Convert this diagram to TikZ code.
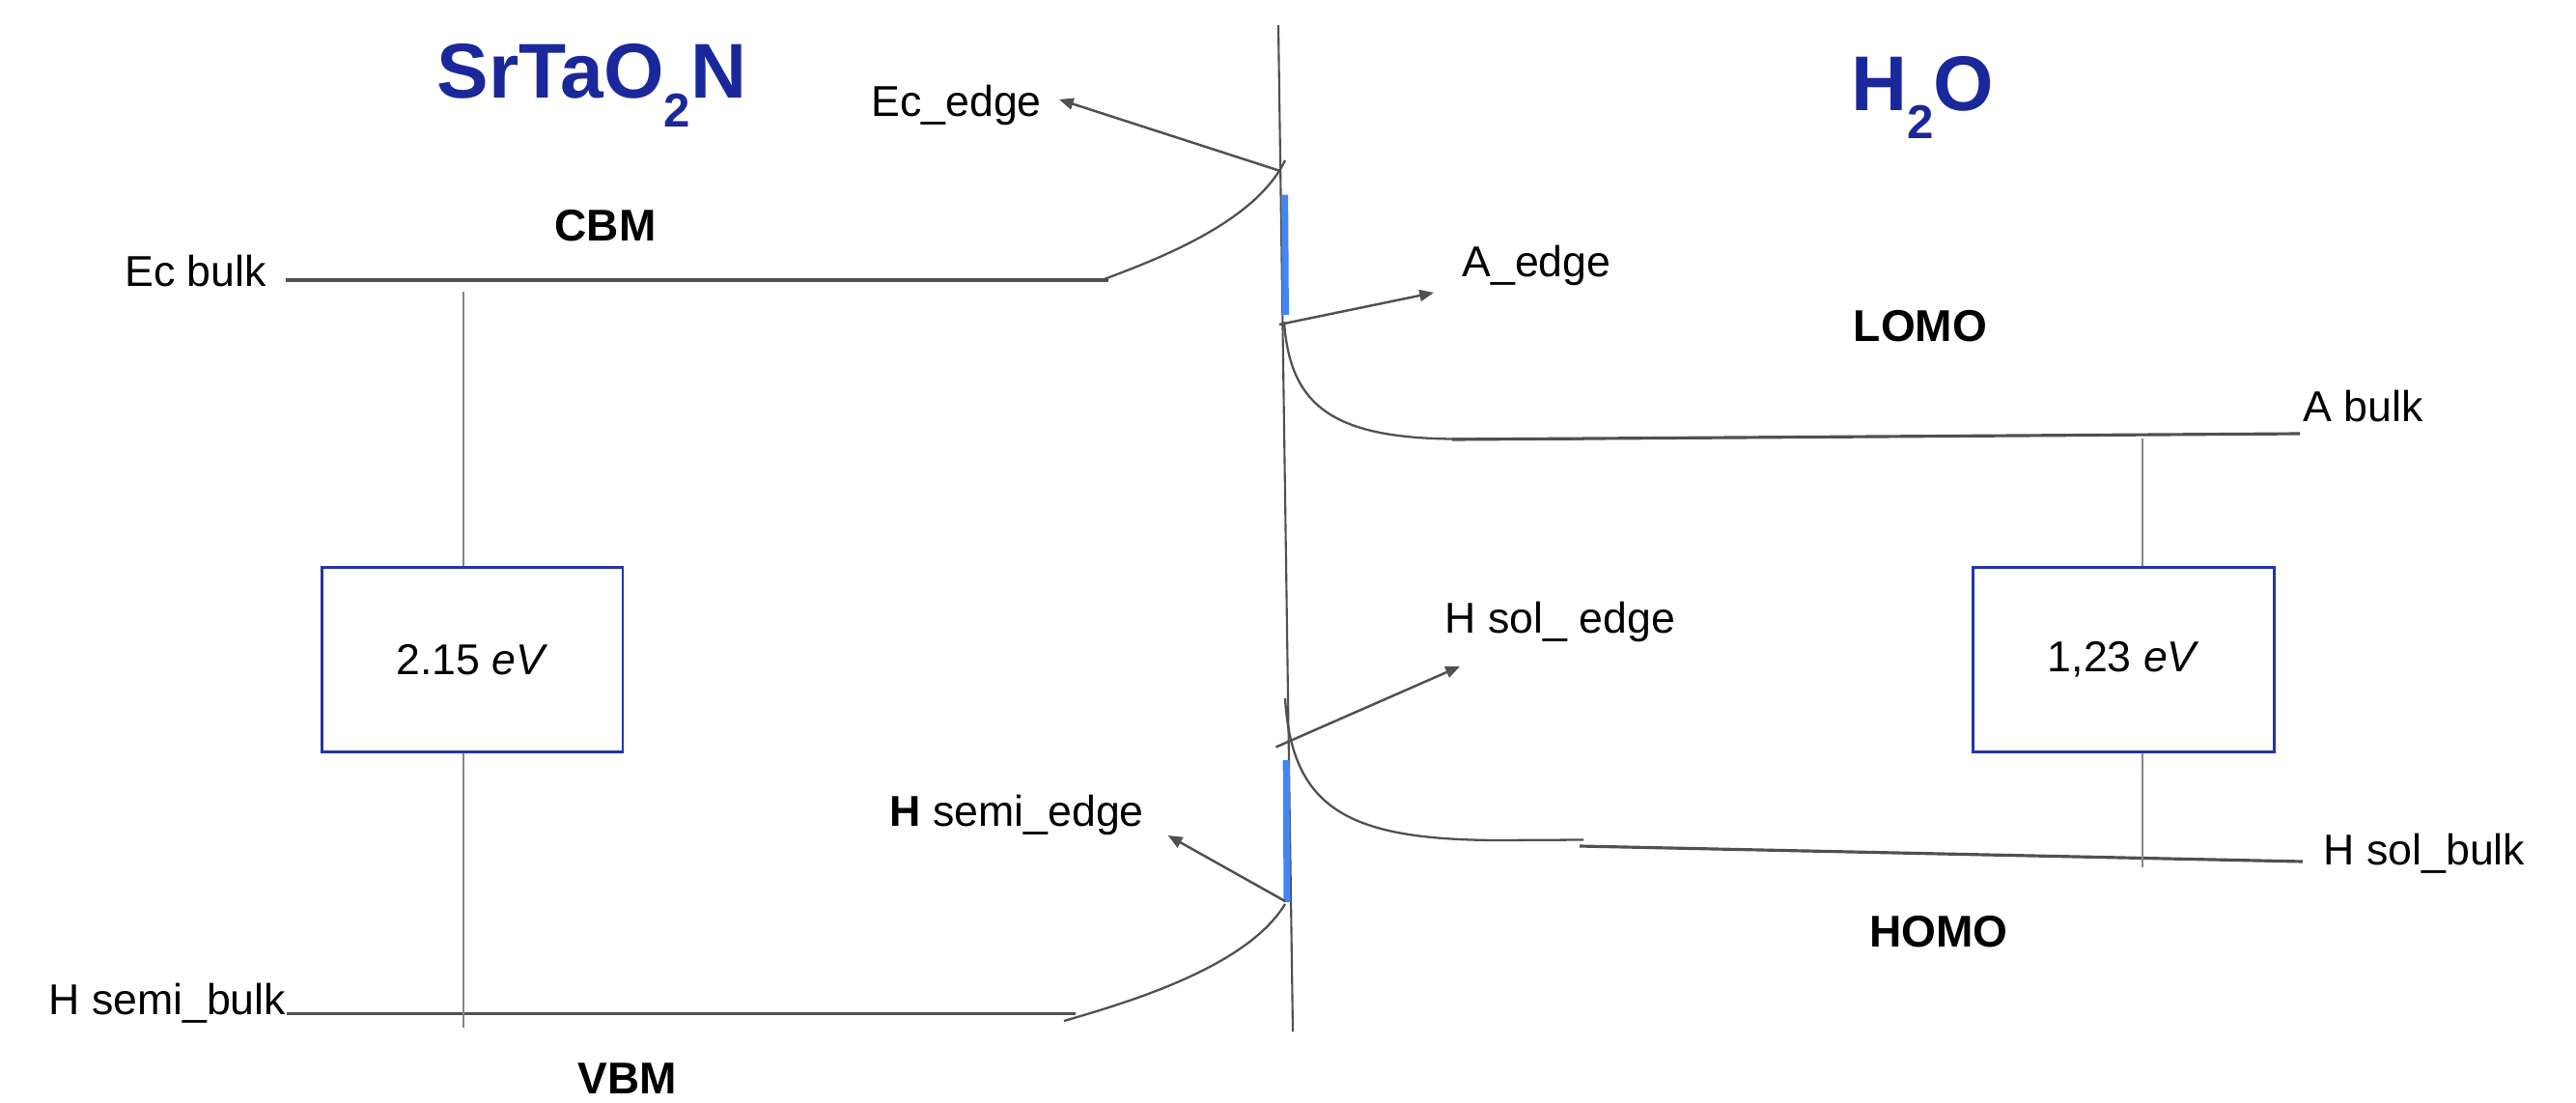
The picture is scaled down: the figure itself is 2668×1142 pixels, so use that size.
\documentclass[tikz,border=0pt]{standalone}
\usepackage{fontspec}
\setmainfont{Liberation Sans}
\usetikzlibrary{arrows.meta}
\definecolor{titleblue}{RGB}{26,40,155}
\definecolor{boxblue}{RGB}{34,52,170}
\definecolor{linegrey}{RGB}{80,80,80}
\definecolor{gapgrey}{RGB}{135,135,135}
\definecolor{barblue}{RGB}{66,133,244}
\begin{document}
\begin{tikzpicture}[x=0.01cm,y=-0.01cm,
  lbl/.style={inner sep=0pt,anchor=base west,font=\fontsize{12.7}{15}\selectfont},
  bandlbl/.style={inner sep=0pt,anchor=base,font=\fontsize{13.1}{15}\selectfont\bfseries},
  ttl/.style={inner sep=0pt,anchor=base,text=titleblue,font=\fontsize{22.85}{26}\selectfont\bfseries},
  gapbox/.style={draw=boxblue,line width=0.8pt,inner sep=0pt,minimum width=3.115cm,minimum height=1.91cm,font=\fontsize{12.7}{15}\selectfont},
  level/.style={draw=linegrey,line width=0.9pt},
  bendline/.style={draw=linegrey,line width=0.65pt},
  iface/.style={draw=linegrey,line width=0.6pt},
  gapline/.style={draw=gapgrey,line width=0.6pt},
  ptr/.style={draw=linegrey,line width=0.7pt,-{Triangle[length=4.2pt,width=3.4pt]}},
  statebar/.style={draw=barblue,line width=2pt}]
\useasboundingbox (0,0) rectangle (2668,1142);

% titles
\newcommand{\subtwo}{\raisebox{-8.5pt}{\fontsize{14}{16}\selectfont 2}}
\node[ttl] (tsemi) at (613,101.7) {SrTaO\subtwo N};
\node[ttl] (twater) at (1991,114) {H\subtwo O};

% band labels
\node[bandlbl] (cbm) at (627,249) {CBM};
\node[bandlbl] (vbm) at (650,1132) {VBM};
\node[bandlbl] (lomo) at (1989,353) {LOMO};
\node[bandlbl] (homo) at (2008,980) {HOMO};

% level labels
\node[lbl] (ecbulk) at (128.6,296) {Ec bulk};
\node[lbl] (hsemibulk) at (49.7,1050.7) {H semi\_bulk};
\node[lbl] (abulk) at (2384.6,436.7) {A bulk};
\node[lbl] (hsolbulk) at (2406,895) {H sol\_bulk};
\node[lbl] (ecedge) at (901.7,120) {Ec\_edge};
\node[lbl] (aedge) at (1513.7,286) {A\_edge};
\node[lbl] (hsoledge) at (1496,655) {H sol\_ edge};
\node[lbl] (hsemiedge) at (921,855) {\textbf{H} semi\_edge};

% gap boxes
\node[gapbox] (boxL) at (489.2,682.8) {2.15 \textit{eV}};
\node[gapbox] (boxR) at (2199.5,683) {1,23 \textit{eV}};

% interface
\coordinate (ifTop) at (1324,26);
\coordinate (ifBot) at (1339,1068);
\draw[iface] (ifTop) -- (ifBot);

% interface states (blue bars)
\coordinate (barAt) at (1330.6,201.7);
\coordinate (barAb) at (1331.4,326);
\coordinate (barBt) at (1332.2,787);
\coordinate (barBb) at (1333.0,934);
\draw[statebar] (barAt) -- (barAb);
\draw[statebar] (barBt) -- (barBb);

% semiconductor conduction band
\coordinate (ecL) at (296,290);
\coordinate (ecR) at (1148,290);
\coordinate (ecS) at (1141,290);
\coordinate (ecE) at (1331,166);
\draw[level] (ecL) -- (ecR);
\draw[bendline] (ecS) .. controls (1200,268) and (1300,230) .. (ecE);

% semiconductor valence band
\coordinate (hsL) at (297,1049.5);
\coordinate (hsR) at (1114,1049.5);
\coordinate (hsS) at (1102,1057);
\coordinate (hsE) at (1331,936);
\draw[level] (hsL) -- (hsR);
\draw[bendline] (hsS) .. controls (1175,1036) and (1292,1000) .. (hsE);

% water acceptor level
\coordinate (aS) at (1330,333);
\coordinate (aM) at (1504,454.5);
\coordinate (aE) at (1641,454.5);
\coordinate (aL) at (1504,455);
\coordinate (aR) at (2382,449);
\draw[bendline] (aS) .. controls (1336,420) and (1380,453) .. (aM) -- (aE);
\draw[level] (aL) -- (aR);

% water donor level
\coordinate (hwS) at (1331,723);
\coordinate (hwM) at (1550,870);
\coordinate (hwE) at (1640,869.5);
\coordinate (hwL) at (1636,876);
\coordinate (hwR) at (2385,892);
\draw[bendline] (hwS) .. controls (1338,840) and (1400,869) .. (hwM) -- (hwE);
\draw[level] (hwL) -- (hwR);

% gap lines
\coordinate (lgTop) at (480,302);
\coordinate (lgBot) at (480,1064);
\coordinate (rgTop) at (2218.6,453.5);
\coordinate (rgBot) at (2218.6,898);
\draw[gapline] (lgTop) -- (boxL.north -| lgTop);
\draw[gapline] (boxL.south -| lgBot) -- (lgBot);
\draw[gapline] (rgTop) -- (boxR.north -| rgTop);
\draw[gapline] (boxR.south -| rgBot) -- (rgBot);

% pointers
\coordinate (ecTail) at (1326,177);
\coordinate (ecTip) at (1097,103);
\coordinate (aTail) at (1325,336);
\coordinate (aTip) at (1485,303);
\coordinate (hsolTail) at (1321.5,773.5);
\coordinate (hsolTip) at (1512,690);
\coordinate (hsemiTail) at (1331,933);
\coordinate (hsemiTip) at (1209.7,865);
\draw[ptr] (ecTail) -- (ecTip);
\draw[ptr] (aTail) -- (aTip);
\draw[ptr] (hsolTail) -- (hsolTip);
\draw[ptr] (hsemiTail) -- (hsemiTip);
\end{tikzpicture}
\end{document}
